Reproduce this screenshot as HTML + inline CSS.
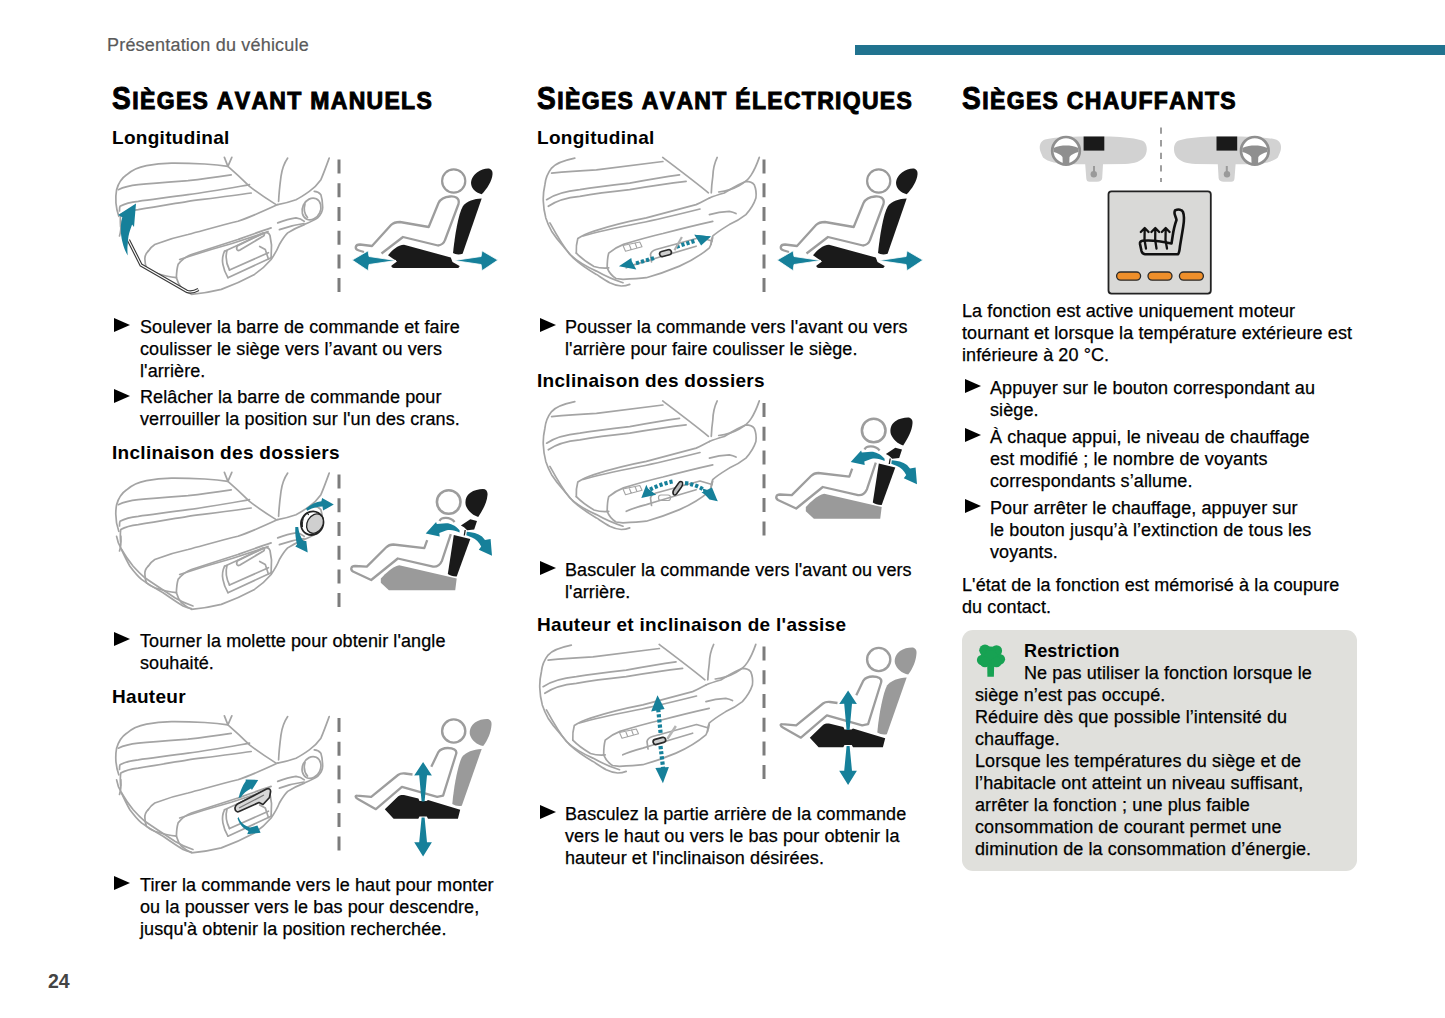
<!DOCTYPE html>
<html><head><meta charset="utf-8">
<style>
*{margin:0;padding:0;box-sizing:border-box}
html,body{width:1445px;height:1018px;background:#fff;overflow:hidden}
body{position:relative;font-family:"Liberation Sans",sans-serif;color:#000}
.a{position:absolute;white-space:nowrap}
.t{font-size:18px;line-height:22px;letter-spacing:0.1px;-webkit-text-stroke:0.25px #000}
.h2{font-size:19px;line-height:22px;font-weight:bold;letter-spacing:0.3px}
.h1{font-size:30px;line-height:34px;font-weight:bold;letter-spacing:1.3px;font-kerning:none;-webkit-text-stroke:0.95px #000}
.h1 s{text-decoration:none;font-size:23px}
.h1 b{display:inline-block;font-size:32px;transform:scaleX(0.88);transform-origin:0 0;margin-right:-2.3px}
.b{position:absolute;width:0;height:0;border-top:7.9px solid transparent;border-bottom:7.9px solid transparent;border-left:16px solid #000}
svg{position:absolute;overflow:visible}
</style></head><body>
<div class="a" style="left:107px;top:34px;font-size:18px;line-height:22px;color:#5a5a5a;letter-spacing:0.2px;-webkit-text-stroke:0.2px #5a5a5a">Présentation du véhicule</div>
<div class="a" style="left:855px;top:45px;width:590px;height:10px;background:#21738f"></div>

<!-- headings -->
<div class="a h1" style="left:112px;top:81px"><b>S</b><s>IÈGES AVANT MANUELS</s></div>
<div class="a h1" style="left:537px;top:81px"><b>S</b><s>IÈGES AVANT ÉLECTRIQUES</s></div>
<div class="a h1" style="left:962px;top:81px"><b>S</b><s>IÈGES CHAUFFANTS</s></div>

<!-- column 1 -->
<div class="a h2" style="left:112px;top:127px">Longitudinal</div>
<div class="b" style="left:114px;top:318px"></div>
<div class="a t" style="left:140px;top:316px">Soulever la barre de commande et faire<br>coulisser le siège vers l’avant ou vers<br>l'arrière.</div>
<div class="b" style="left:114px;top:389px"></div>
<div class="a t" style="left:140px;top:386px">Relâcher la barre de commande pour<br>verrouiller la position sur l'un des crans.</div>
<div class="a h2" style="left:112px;top:442px">Inclinaison des dossiers</div>
<div class="b" style="left:114px;top:632px"></div>
<div class="a t" style="left:140px;top:630px">Tourner la molette pour obtenir l'angle<br>souhaité.</div>
<div class="a h2" style="left:112px;top:686px">Hauteur</div>
<div class="b" style="left:114px;top:876px"></div>
<div class="a t" style="left:140px;top:874px">Tirer la commande vers le haut pour monter<br>ou la pousser vers le bas pour descendre,<br>jusqu'à obtenir la position recherchée.</div>

<!-- column 2 -->
<div class="a h2" style="left:537px;top:127px">Longitudinal</div>
<div class="b" style="left:540px;top:318px"></div>
<div class="a t" style="left:565px;top:316px">Pousser la commande vers l'avant ou vers<br>l'arrière pour faire coulisser le siège.</div>
<div class="a h2" style="left:537px;top:370px">Inclinaison des dossiers</div>
<div class="b" style="left:540px;top:561px"></div>
<div class="a t" style="left:565px;top:559px">Basculer la commande vers l'avant ou vers<br>l'arrière.</div>
<div class="a h2" style="left:537px;top:614px">Hauteur et inclinaison de l'assise</div>
<div class="b" style="left:540px;top:805px"></div>
<div class="a t" style="left:565px;top:803px">Basculez la partie arrière de la commande<br>vers le haut ou vers le bas pour obtenir la<br>hauteur et l'inclinaison désirées.</div>

<!-- column 3 -->
<div class="a t" style="left:962px;top:300px">La fonction est active uniquement moteur<br>tournant et lorsque la température extérieure est<br>inférieure à 20 °C.</div>
<div class="b" style="left:965px;top:379px"></div>
<div class="a t" style="left:990px;top:377px">Appuyer sur le bouton correspondant au<br>siège.</div>
<div class="b" style="left:965px;top:428px"></div>
<div class="a t" style="left:990px;top:426px">À chaque appui, le niveau de chauffage<br>est modifié ; le nombre de voyants<br>correspondants s’allume.</div>
<div class="b" style="left:965px;top:499px"></div>
<div class="a t" style="left:990px;top:497px">Pour arrêter le chauffage, appuyer sur<br>le bouton jusqu’à l’extinction de tous les<br>voyants.</div>
<div class="a t" style="left:962px;top:574px">L'état de la fonction est mémorisé à la coupure<br>du contact.</div>

<div class="a" style="left:962px;top:630px;width:395px;height:241px;background:#e0e0dc;border-radius:11px"></div>
<div class="a h2" style="left:1024px;top:640px;font-size:18px;letter-spacing:0.15px">Restriction</div>
<div class="a t" style="left:975px;top:662px"><span style="padding-left:49px">Ne pas utiliser la fonction lorsque le</span><br>siège n’est pas occupé.<br>Réduire dès que possible l’intensité du<br>chauffage.<br>Lorsque les températures du siège et de<br>l’habitacle ont atteint un niveau suffisant,<br>arrêter la fonction ; une plus faible<br>consommation de courant permet une<br>diminution de la consommation d’énergie.</div>

<div class="a" style="left:48px;top:970px;font-size:19.5px;line-height:22px;font-weight:bold;color:#444">24</div>


<svg width="1445" height="1018" style="left:0;top:0" viewBox="0 0 1445 1018">
<defs>
<g id="dash"><line x1="339" y1="159.6" x2="339" y2="293" stroke="#7c7c7c" stroke-width="3" stroke-dasharray="14 9.7"/></g>
<g id="pA">
<circle cx="453.7" cy="181" r="11.6" fill="none" stroke="#9a9a9a" stroke-width="2.2"/>
<path d="M488,168.5 C491,168.5 493,171 492.5,174.5 C492,181 487,189 481.7,194.2 C476,193 472,189 471.2,184.5 C470.5,180 473,175.5 477,172.5 C480.5,170 484.5,168.5 488,168.5 Z" fill="#1a1a1a"/>
<path d="M481.7,198.6 L462.6,253.8 C459,255 455,254.5 453,253.1 C455,235 458,215 463,206 C467,201 474,199 481.7,198.6 Z" fill="#1a1a1a"/>
<path d="M381.5,253.5 L403,237 L438,245.5 C442,245 444,243 445,240 L458.5,204 C460,198 455,196 450,196.5 C444,197 440,200 438.5,203 L428.7,227 L400,222 C396,222 393,223 391,225 L372,246 L360,244.5 C355,244.5 354,249 359,250.5 L364,252" fill="none" stroke="#9d9d9d" stroke-width="2.3" stroke-linejoin="round"/>
<path d="M388,255.3 C392,250 398,245 404,244.7 L450.8,257.5 L452.5,262 L459.6,265.9 C459.6,267 458.5,268 457,268 L394,268 C391.5,268 391,266 391.6,265.4 L397,261.5 Z" fill="#1a1a1a"/>
<path d="M352.2,260.1 L368.1,250.8 L369,256.5 L396,260.5 L369,264.5 L368.1,270.7 Z" fill="#16809a" stroke="#fff" stroke-width="0.8"/>
<path d="M497.9,260.1 L482,250.8 L481.1,256.5 L454,260.5 L481.1,264.5 L482,270.7 Z" fill="#16809a" stroke="#fff" stroke-width="0.8"/>
</g>

<g id="pB">
<circle cx="448.7" cy="502" r="11.8" fill="none" stroke="#9d9d9d" stroke-width="2.6"/>
<path d="M482.9,489 C486,489 488,491.5 487.5,495 C487,502 483,510 478.2,516.9 C473,515.5 468,511 466,506 C464.5,501 466,496 470,493 C474,490 479,489 482.9,489 Z" fill="#1a1a1a"/>
<path d="M460.9,525.6 L470.3,519.3 L477,520.9 L474.2,529.5 L467.2,530.3 L464,527.2 Z" fill="#1a1a1a"/>
<path d="M465.2,530 L464.3,535.5" stroke="#1a1a1a" stroke-width="1.3"/>
<path d="M453.8,535 L470.3,538.9 L456.7,576.4 C453,576.5 450,575.5 447.8,574 Z" fill="#1a1a1a"/>
<path d="M439.6,521 C441,517 450,516.5 454.6,522" fill="none" stroke="#9d9d9d" stroke-width="2.3"/>
<path d="M380.8,578.4 C386,573 392,567 399.2,565.2 L456.7,578.6 L455.2,590.2 L388.9,590.2 L380.8,582.8 Z" fill="#9a9a9a"/>
<path d="M427.2,540.1 L424.3,548.2 L393.3,544.5 C390,544.5 388,545.5 386,547.5 L366.8,566.6 L355,566 C351,566 350,569.5 353,571.5 L371.2,580 L397.8,558.5 L433.1,566.6 C437,567 440,565 442,560.7 L450.8,534.2" fill="none" stroke="#9d9d9d" stroke-width="2.3" stroke-linejoin="round"/>
<path d="M459.6,530.2 C455,525 450,523 446,523.2 L436.8,524 L436.1,522 L425.7,533.5 L439.7,536.6 L439.3,533 L446,530.5 C451,529.5 455,530.5 459.6,532.6 Z" fill="#16809a"/>
<path d="M466.8,531.8 C472,532 478,533.5 482,536.5 L485,540 L490.6,539 L492,555.8 L478.8,549.7 L481.2,546.5 C479,542 476,539.5 472,537.5 L466.3,535.3 Z" fill="#16809a"/>
</g>
<g id="pC">
<circle cx="453.7" cy="731" r="11.6" fill="none" stroke="#9d9d9d" stroke-width="2.4"/>
<path d="M487,719 C490,719 492,721.5 491.5,725 C491,732 488,740 483.2,746.1 C477,745 471.5,740 470,735 C469,730 471,725.5 475,722.5 C478.5,720 483,719 487,719 Z" fill="#9a9a9a"/>
<path d="M481.7,749 L461.8,805.7 C458,806.5 455,805.5 452.3,804 C454,785 458,765 462,757 C466,752 473,749.5 481.7,749 Z" fill="#9a9a9a"/>
<path d="M357.1,795.7 L371.2,796.9 L398,775 C400,773.5 403,773.3 405,773.5 L412.5,774.5 M431.3,766.8 L438.4,752.1 C440.5,749 444,748 447.8,748 C453,748 457.5,750 456.1,754 L443.1,795.7 L437.2,796.9 L401.9,786.8 L375.9,809.2 L358.3,799.2 C355,797.5 355,795.5 357.1,795.7" fill="none" stroke="#9d9d9d" stroke-width="2.3" stroke-linejoin="round"/>
<path d="M384.8,809.2 L398,796.5 C400,795 403,794.8 405,795.3 L418.4,798.6 L419.5,801 L426.5,801 L428,800 L460.2,809.8 L457.9,818.7 L428,818.7 L426.8,816.5 L419.5,816.5 L418.3,818.7 L393.6,818.7 Z" fill="#1a1a1a"/>
<path d="M423.1,762.1 L431.9,775.6 L427,775.2 L424.6,801.6 L421.6,801.6 L419.2,775.2 L414.2,775.6 Z" fill="#16809a"/>
<path d="M423.1,856.4 L431.9,842.3 L427,842.3 L424.6,817.5 L421.6,817.5 L419.2,842.3 L414.2,842.3 Z" fill="#16809a"/>
</g>

<g id="segM" fill="none" stroke="#a4a4a4" stroke-width="1.7" stroke-linecap="round" stroke-linejoin="round">
<path d="M118.8,216.3 C115.5,207 115.3,197 116.6,189.7 C118.5,183 122,178 126.6,174.8 C132,170 139,167 146.5,165.6 C155,164 163,163.3 171.4,163.1 C183,163 194,163.4 204.7,164 C213,164.6 221,165.4 227.9,166.4"/>
<path d="M118.3,189.7 C124,187 131,185.5 138.2,184.7 C155,183 172,181.8 188,180.6 C203,179 217,177 231.2,174.8"/>
<path d="M119.5,211 C119.5,208.5 119.5,207.3 120,206.3 C125,203.5 131,202 138.2,201.3 C155,199 172,197 188,194.7 C210,191.5 230,188 249.5,184.7"/>
<path d="M120.6,227 C120.2,221 120.2,217 120.8,214.6 C126,211.5 132,210.3 138.2,209.6 C155,207 172,204 188,201.3 C210,198.5 231,196 251.2,193"/>
<path d="M224.4,157.4 L227.9,166.4 L231.8,157.4 M227.9,166.4 C235,172.5 242,179 249.5,186.4 C258,193 267,199 276.1,204.6"/>
<path d="M287.7,158.1 C284,163.5 282,169.5 281,176.4 C280,184 279,192 278.6,201.3"/>
<path d="M329.2,158.1 C326.5,165.5 324,172.5 320.9,179.7 C317.5,184.5 313.5,188.5 309.3,191.4 C305,194.5 300.5,197.5 296,199.7 C290,201.8 284,203.5 277.7,204.6"/>
<path d="M148.2,251.2 C150,248.5 152,246.3 154.8,244.5 C165,240.5 176,237 188,234.5 C205,230 221,225.5 237.9,221.3 C252,216.5 265,210.5 277.7,204.6"/>
<path d="M148.2,251.2 C145.5,254 144.5,256.5 144.9,259.5 C145,263 145.5,265.5 146.5,267.8 C149,270 151.5,271.5 154.8,272.7 C162,275 169,276.8 176.4,277.7"/>
<path d="M176.4,277.7 C176.5,272.5 177,268 178.1,264.4 C182,259.5 186,256.5 191.4,254.5 C207,249.5 222,244.5 237.9,239.5 C249,235.5 260,231.5 271.1,227.9"/>
<path d="M179.7,259.5 C196,254 214,248.5 232,243.5 C246,239 258,235 268,231.5"/>
<path d="M176.4,277.7 C177.5,281.5 179,285 181.4,287.7 C184.5,290.5 187.5,292.5 191.4,294.3 C201,293.5 211,292 221.3,289.4 C233,285 244,280 254.5,274.4 C261,270 266.5,265 271.1,259.5 C274.5,254.5 277.5,249.5 279.4,244.5 C282,240 284.5,236 287.7,232.9 C293,229.5 298.5,226.8 304.3,224.6 C309,222.5 314,220.5 317.6,217.9 C321.5,214 323,210 322.6,206.3 C322.5,202 322,198 320.9,194.7 C319,192.5 316.5,191.5 314.3,191.4"/>
<path d="M277.7,222.9 C284,220.5 290,218.7 296,217.9 C299,218.3 302,219.5 304.3,221.3"/>
<path d="M279.4,229.6 C288,226.5 296,224.5 304,223.5"/>
<path d="M224.6,251.2 C222.5,255.5 222,260 222.9,264.4 C223.7,269 225.5,273.5 227.9,277.7"/>
<path d="M227,250.5 C225.5,256 226,263 229.5,270"/>
<path d="M224.6,251.2 L264.5,233 C267,232 269,233 270,235.5 L271.5,245 L271.1,257.8"/>
<path d="M227.9,277.7 L271.1,257.8"/>
<path d="M229.5,270 L268.4,252.7"/>
<path d="M259.7,246.4 L265.3,249.6 L268.4,259"/>
<path d="M237,249.6 C236,247 237.5,245.5 239.3,244.9 L262.9,233.1 C264.5,233 264.8,235 263.5,236 L240,250 C238.5,250.8 237.5,250.5 237,249.6 Z" stroke-width="1.8"/>
<ellipse cx="311.5" cy="209" rx="9" ry="11.2" transform="rotate(25 311.5 209)"/>
<path d="M305,204 C303.5,209 304.5,214 307.5,217.5"/>
<path d="M119.5,236 C121.5,230 121,225 120.8,221"/>
</g>

<g id="segE" fill="none" stroke="#a4a4a4" stroke-width="1.7" stroke-linecap="round" stroke-linejoin="round">
<path d="M574.8,158.1 C563,160.5 555,164 551.6,168.1 C547,174 545.5,179 544.9,184.7 C543.5,191 543,196 543.3,201.3 C543.5,207 544.5,213 545.8,217.9 C547.5,223 549.5,227.5 551.6,231.2 C555,236.5 559,241.5 563.2,246.2 C566.5,250 569.5,254 573.2,257.8 C580,264 588,269.5 596.4,274.4 C600.5,277 605,280 609.7,282.7 C613.5,284.5 617.5,285.8 621.3,286 C624.5,286 627,285.5 629.7,284.4"/>
<path d="M551.6,173.1 C566,171.5 581,170.5 596.4,169.8 C620,167 642,164 662.9,161.5"/>
<path d="M546.6,199.7 C556,193.5 567,191 579.8,189.7 C596,187 613,185 629.7,183.1 C646,180 663,177 679.5,174.8"/>
<path d="M548.3,206.3 C557,200 567,197.5 579.8,196.3 C596,193.5 613,191.5 629.7,189.7 C648,186.5 667,183.5 686.1,181.4"/>
<path d="M549.9,222.9 C556,234 562,245 569.9,254.5 C578,262 587,267 596.4,271.1 C605,276 614,280 623,282.7"/>
<path d="M576.3,253.2 C576,248 576.5,243 577.8,238.5 C583,235 588,233 594,231.1 C613,225 630,221 646.3,217.9 C663,213.5 680,209 696.1,204.6 C701,202.5 705,200 709.4,198"/>
<path d="M583,236 C600,231 620,227 640,223 C660,219 680,214 700,209"/>
<path d="M576.3,253.2 C582,259 588,263 594,266.5 C599,268 604,268.3 608.7,267.9"/>
<path d="M607.2,267.9 C607.2,262 607.6,257 608.7,253.2 C613,249.5 618,246.5 623.5,244.4 C636,240.5 650,236.5 662.9,233.5 C680,229 696,225 712.7,221.3"/>
<path d="M607.2,267.9 C609,272.5 612,276 616,278.5 L623,279.4 C631,279 639,278.5 646.3,277.7 C658,274.5 669,270.5 679.5,266.1 C691,261 701,255 709.4,247.8 C711,245 712,241 712.7,237.9"/>
<path d="M626.3,267.8 C632,265 639,263 646.3,261.1 C663,256 680,251 696.1,246.2"/>
<path d="M662.7,157.4 C678,169 694,181 708.4,192.8"/>
<path d="M717.2,157.4 C714.5,163 713,170 712.8,176.5 C712,182 711.5,187 711.3,192.8"/>
<path d="M759.3,157.4 C757,164 754.5,170 751.1,175.1 C748,180 744,183 739.4,185.4 C733,189 726,191 718.7,192"/>
<path d="M709.4,198 C714,196 719,194.5 724.3,193 C731,189 738,184.5 745.9,181.4 C749.5,181.5 752.5,182.5 754.2,184.7 C756,189 756.5,193.5 755.9,198 C754,204 750.5,209.5 745.9,214.6 C741,218.5 735,222 729.3,224.6 C723,228.5 717,232 712.7,236.2 C711.5,239 711,241.5 711,244.5"/>
<path d="M709.4,214.6 C716,212.5 722,211.5 729.3,211.3 C732,211.8 734,212.5 736,213.5"/>
<path d="M651.5,262 L650.5,254.5 C651,252 653,250.5 656,249.5 L700,237.5 L712,241"/>
<path d="M623,245.5 L625.5,251.2 L642,246.8 L639.8,242 Z M629,244 L631.3,249.8 M635,242.7 L637,248.3" stroke-width="1.1"/>
</g>

<g id="dashL">
<path d="M1040.8,152.4 C1038.5,147 1040,141 1045,139.5 C1055,137 1070,136.5 1084,136.4 L1105.6,136.6 C1118,136.8 1132,137.5 1142,140.5 C1147.5,142.5 1148,151 1145,156 C1141,161.5 1135,163.5 1125,164 L1103,164.2 L1102.2,178 C1102,180.5 1100,181.8 1097,181.8 L1089.5,181.8 C1087.5,181.8 1086.4,180.5 1086.3,178.5 L1085.2,164.2 L1070,164.2 C1058,164 1048,162 1043,157.5 Z" fill="#d2d2d2"/>
<circle cx="1066" cy="150.8" r="14.2" fill="#fff"/>
<circle cx="1066" cy="150.8" r="13.8" fill="none" stroke="#8f8f8f" stroke-width="2.7"/>
<path d="M1053.5,148 C1058,146 1062,145.5 1066,145.5 C1070,145.5 1074,146 1078.5,148 L1078.5,152 C1075,153 1071,154.5 1069.5,157 L1069.2,164.5 L1062.8,164.5 L1062.5,157 C1061,154.5 1057,153 1053.5,152 Z" fill="#8f8f8f"/>
<rect x="1083.6" y="136.5" width="20.7" height="14.1" fill="#1a1a1a"/>
<path d="M1094,166 L1094,172" stroke="#9a9a9a" stroke-width="2"/>
<circle cx="1093.8" cy="174.3" r="3.2" fill="#9a9a9a"/>
</g>

<g id="segMb" fill="none" stroke="#a4a4a4" stroke-width="1.7" stroke-linecap="round" stroke-linejoin="round">
<path d="M116.6,221.3 C117.5,226 119,230 120.8,232.9 C123.5,239 126.5,245.5 129.9,251.2 C133.5,256 137,260.5 141.5,264.4 C148.5,269.5 155.5,273.5 163.1,277.7 C170,282.5 176.5,287 183.1,291 C186,292.3 188.5,293.2 191.4,293.5"/>
<path d="M121.6,234.5 C125,240.5 129,246 133.2,251.2 C137,255.5 141,259.5 144.9,262.8 C154.5,269.5 164.5,276 174.8,282.7 C181,286.5 187,289 193,291"/>
</g>
</defs>

<use href="#dashL"/>
<use href="#dashL" transform="translate(2320.8,0) scale(-1,1)"/>
<line x1="1161" y1="127.5" x2="1161" y2="182" stroke="#9a9a9a" stroke-width="1.9" stroke-dasharray="6.3 6.3"/>
<rect x="1108.5" y="191.3" width="102.3" height="102.3" rx="3" fill="#d9d9d7" stroke="#222" stroke-width="1.8"/>
<path d="M1176,210 C1178,209 1182,209.5 1183,212 C1185,217 1184,222 1183,228 L1180,246 C1179.5,251 1179,253.5 1178,254.2 L1145,254.2 C1143,254 1142,253 1141.5,251 L1140,244 C1139.8,242 1140.8,241 1142.5,240.8 C1150,240 1160,241 1171.5,243.5 L1172.5,237 C1173.5,230 1175,224 1176.5,220 C1176,217 1174.5,215 1174.5,213 C1174.5,211 1175,210 1176,210 Z" fill="none" stroke="#111" stroke-width="2.6" stroke-linejoin="round"/>
<g fill="none" stroke="#111" stroke-width="2.3" stroke-linecap="round" stroke-linejoin="round">
<path d="M1144.7,228.5 L1144.5,240 L1146,248.5 M1140.8,232 L1144.7,228 L1148.6,232"/>
<path d="M1155.3,228.5 L1155.2,240 L1156.5,248.5 M1151.4,232 L1155.3,228 L1159.2,232"/>
<path d="M1165.7,228.5 L1165.5,240 L1167,248.5 M1161.8,232 L1165.7,228 L1169.6,232"/>
</g>
<g fill="#ef8f2a" stroke="#2a2a2a" stroke-width="1.3">
<rect x="1116.6" y="272" width="24" height="8.2" rx="4.1"/>
<rect x="1148" y="272" width="24" height="8.2" rx="4.1"/>
<rect x="1179.4" y="272" width="24" height="8.2" rx="4.1"/>
</g>

<g fill="#17a253">
<circle cx="985" cy="650.3" r="5.8"/>
<circle cx="996.5" cy="650.8" r="5.6"/>
<circle cx="990.8" cy="651.5" r="5"/>
<circle cx="982.2" cy="660" r="5.3"/>
<circle cx="999.8" cy="659.3" r="5.3"/>
<circle cx="990.8" cy="658" r="7.5"/>
<circle cx="985" cy="662" r="5.3"/>
<circle cx="996.5" cy="662" r="5.3"/>
<path d="M987.2,664 L994.2,664 L993.9,676.8 L987.4,676.8 Z"/>
</g>
<use href="#segM"/>
<use href="#dash"/>
<use href="#pA"/>
<use href="#segE"/>

<!-- M1 overlays -->
<path d="M128.4,239.9 L141,265 L186.7,291.3 C190,292.5 194,292 198.5,289.5" fill="none" stroke="#3a3a3a" stroke-width="3.4" stroke-linejoin="round"/>
<path d="M128.4,239.9 L141,265 L186.7,291.3 C190,292.5 194,292 198.5,289.5" fill="none" stroke="#fff" stroke-width="1.1" stroke-linejoin="round"/>
<path d="M136,203.5 L118.1,214.9 L122.3,217.3 C120.3,224 120.3,234 122.3,241.4 C123.5,247 125.5,251.5 127.7,255.4 C127.3,250 127.3,247 127.7,244.4 C128,238 128.8,234 130,230.5 C130.8,228 131.5,226 132.1,224.5 L134,226.9 Z" fill="#16809a"/>
<!-- M2 overlays -->
<use href="#segM" y="315"/><use href="#segMb" y="315"/>
<ellipse cx="312.2" cy="523.2" rx="11" ry="12" transform="rotate(30 312.2 523.2)" fill="#fff" stroke="#222" stroke-width="1.8"/>
<ellipse cx="315" cy="523.6" rx="7.8" ry="10.2" transform="rotate(30 315 523.6)" fill="#cfcfcf" stroke="#222" stroke-width="1.3"/>
<path d="M304,516 C303,519 302,523 302.5,527 M306.5,513 L309,515" stroke="#222" stroke-width="1" fill="none"/>
<path d="M306,508.4 C311,504.5 316,502 321.4,501.3 L322.1,497.9 L333.8,504.4 L323.1,510.6 L322.5,506.6 C317,506.6 311.5,508.2 307.2,510.8 Z" fill="#16809a"/>
<path d="M295.3,527.1 L298.2,527 C298.8,532 300.4,537.5 303.6,540.9 L306.3,540.9 L307.7,552.5 L295.3,546.4 L297,544.5 C295.6,539 295,533 295.3,527.1 Z" fill="#16809a"/>
<!-- M3 overlays -->
<use href="#segM" y="558.5"/><use href="#segMb" y="558.5"/>
<path d="M236,811 C234.5,809.5 234.5,806 237.5,804 L266.5,789 C269,788 271,789.5 270.5,792 L269.5,797.5 L263,804.5 L259,802.5 L239,811.5 C238,812 237,812 236,811 Z" fill="#d8d8d8" stroke="#2a2a2a" stroke-width="1.7" stroke-linejoin="round"/><path d="M239,808 L264,795" stroke="#777" stroke-width="1.2"/>
<path d="M238.6,798 C240,792 242,786 245.8,781 L245.6,779.5 L258.2,779.9 L251.9,790.1 L251,788.6 C247,790.5 243,794 240.9,797.2 Z" fill="#16809a"/>
<path d="M238.6,816.9 C240,822 244,825.5 250,827.5 L257.4,825.5 L260.6,832.8 L247.2,834.2 L248.5,831 C243,828.5 239.5,824 237.5,818.5 Z" fill="#16809a"/>
<!-- E1 overlays -->
<path d="M618.9,266.3 L631.3,258 L631.8,261.2 L636.3,269.6 Z" fill="#16809a"/>
<path d="M636,263.3 L656,257.5 M676.5,246.8 L696,240.5" stroke="#16809a" stroke-width="4" stroke-dasharray="3.2 2"/>
<path d="M711,236.4 L694.4,234.7 L701.1,245.5 L699,241.5 Z" fill="#16809a"/>
<path d="M711,236.4 L694.4,234.7 L697,238 L701.1,245.5 Z" fill="#16809a"/>
<rect x="659.5" y="250.5" width="12" height="5.2" rx="2.6" transform="rotate(-15 665.5 253.1)" fill="#cfcfcf" stroke="#2a2a2a" stroke-width="1.7"/>
<path d="M674.5,250.3 L681.9,237" stroke="#b0b0b0" stroke-width="2.2"/>
<!-- E2 overlays -->
<use href="#segE" y="243.5"/>
<path d="M641.3,498 L646.3,484.7 L648,488.5 L656.2,494.7 Z" fill="#16809a"/>
<path d="M650,489.5 C657,486 665,483 673,481.5" stroke="#16809a" stroke-width="4" stroke-dasharray="3.2 2" fill="none"/>
<path d="M685,483 C692,484 698,486 703.5,489.5" stroke="#16809a" stroke-width="4" stroke-dasharray="3.2 2" fill="none"/>
<path d="M717.7,501.3 L702.8,488.5 L703.5,493 L709.4,499.6 Z M717.7,501.3 L702.8,488.5 L710.5,491 Z" fill="#16809a"/>
<path d="M717.7,501.3 L701.5,492.5 L712,487.5 Z" fill="#16809a"/>
<path d="M673.5,494.5 C672.5,493 673,491 674,489.5 L679,482.5 C680,481 682,481 682.5,482.5 C683,484 682.5,485.5 681.5,487 L676.5,494 C675.5,495 674.3,495.3 673.5,494.5 Z" fill="#bbb" stroke="#222" stroke-width="1.5"/>
<rect x="658.5" y="495" width="12" height="5.5" rx="2.5" fill="none" stroke="#a5a5a5" stroke-width="1.2"/>
<!-- E3 overlays -->
<use href="#segE" x="-3.5" y="487"/>
<path d="M657.5,695.3 L651.1,711.5 L664.6,709 Z" fill="#16809a"/>
<path d="M658.2,709 L660.8,735 M660.5,746 L663.2,769" stroke="#16809a" stroke-width="4.2" stroke-dasharray="3.2 2"/>
<path d="M662.9,783.3 L655.4,768 L668.9,767.1 Z" fill="#16809a"/>
<rect x="653" y="738.3" width="12.8" height="5.2" rx="2.6" transform="rotate(-15 659.4 740.9)" fill="#cfcfcf" stroke="#2a2a2a" stroke-width="1.7"/>
<path d="M667.3,739 L675.9,726" stroke="#b5b5b5" stroke-width="2.4"/>
<use href="#dash" x="425"/>
<use href="#pA" x="425"/>
<use href="#dash" y="315"/>
<use href="#pB"/>
<use href="#dash" x="425" y="243.5"/>
<use href="#pB" x="425" y="-71.5"/>
<use href="#dash" y="558.5"/>
<use href="#pC"/>
<use href="#dash" x="425" y="487"/>
<use href="#pC" x="425" y="-71.5"/>
</svg>
</body></html>
